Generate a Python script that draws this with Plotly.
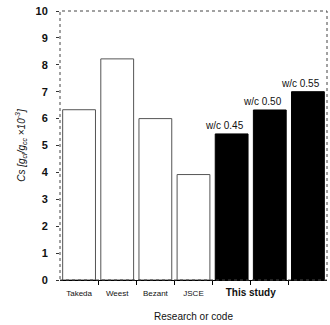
import plotly.graph_objects as go

categories = ["Takeda", "Weest", "Bezant", "JSCE", "w/c 0.45", "w/c 0.50", "w/c 0.55"]
values = [6.33, 8.22, 6.0, 3.92, 5.43, 6.32, 7.0]
is_this_study = [False, False, False, False, True, True, True]
tick_labels = ["Takeda", "Weest", "Bezant", "JSCE"]
study_label = "This study"
y_ticks = [0, 1, 2, 3, 4, 5, 6, 7, 8, 9, 10]

xpos = list(range(len(categories)))
fill = ["black" if s else "white" for s in is_this_study]
edge = ["black" if s else "#555555" for s in is_this_study]
study_center = sum(i for i, s in enumerate(is_this_study) if s) / sum(is_this_study) - 0.5

fig = go.Figure()
fig.add_trace(go.Bar(
    x=xpos, y=values,
    marker=dict(color=fill, line=dict(color=edge, width=1)),
    width=0.86, showlegend=False, hoverinfo="skip",
))

for i, (c, v, s) in enumerate(zip(categories, values, is_this_study)):
    if s:
        fig.add_annotation(x=i, y=v, text=c, showarrow=False, yanchor="bottom",
                           xshift=-7, yshift=1,
                           font=dict(family="Liberation Sans, Arial", size=10, color="#111"))

fig.add_shape(type="rect", xref="paper", yref="paper", x0=0, x1=1, y0=0, y1=1,
              line=dict(color="#444", width=1, dash="dot"), layer="above")

fig.update_layout(
    width=330, height=325,
    margin=dict(l=60, r=3, t=11, b=45),
    plot_bgcolor="white", paper_bgcolor="white",
    font=dict(family="Liberation Sans, Arial", color="#111"),
    xaxis=dict(
        range=[-0.5, 6.5],
        tickmode="array",
        tickvals=[0, 1, 2, 3, study_center],
        ticktext=tick_labels + ["<span style='font-size:10px'><b>" + study_label + "</b></span>"],
        tickfont=dict(size=8, color="#111"),
        ticks="",
        ticklabelstandoff=5,
        showline=True, linecolor="black", linewidth=1,
        minor=dict(tickvals=[0.5, 1.5, 2.5, 3.5, 4.5, 5.5], ticks="outside",
                   ticklen=4, tickcolor="black"),
        title=dict(text="Research or code", font=dict(size=10, color="#111"), standoff=16),
        showgrid=False, zeroline=False, fixedrange=True,
    ),
    yaxis=dict(
        range=[0, 10],
        tickmode="array", tickvals=y_ticks,
        ticktext=["<b>%d</b>" % t for t in y_ticks],
        tickfont=dict(size=11, color="#111"),
        ticks="outside", ticklen=3, tickcolor="#333",
        ticklabelstandoff=6,
        showline=False, showgrid=False, zeroline=False,
        fixedrange=True,
        title=dict(text="<i>Cs [g<sub>cl</sub>/g<sub>cc</sub> ×10<sup>-3</sup>]</i>",
                   font=dict(size=10, color="#111"), standoff=8),
    ),
    bargap=0.14,
)

fig.write_html("out.html", config={"displayModeBar": False},
               post_script="document.body.style.margin='0';")
